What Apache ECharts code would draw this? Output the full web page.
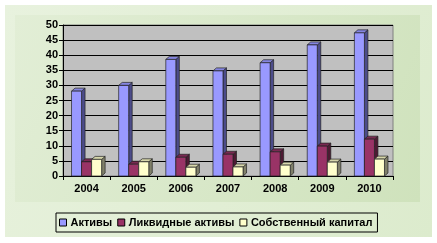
<!DOCTYPE html>
<html>
<head>
<meta charset="utf-8">
<script src="https://cdn.jsdelivr.net/npm/echarts@6/dist/echarts.min.js"></script>
<style>html,body{margin:0;padding:0;background:#fff}#c{width:437px;height:243px}</style>
</head>
<body>
<div id="c"></div>
<script>
const categories = ['2004','2005','2006','2007','2008','2009','2010'];
const seriesNames = ['Активы','Ликвидные активы','Собственный капитал'];
const aktivy = [28.1, 30.0, 38.6, 34.8, 37.5, 43.4, 47.4];
const likvid = [4.7, 3.9, 6.2, 7.2, 8.0, 9.9, 12.2];
const sobstv = [5.5, 4.7, 2.9, 3.0, 3.6, 4.6, 5.6];
const yTicks = {min: 0, max: 50, interval: 5};

const faces = [
  {front:'#9999ff', side:'#4c4c8a', top:'#8585e0'},
  {front:'#993366', side:'#4d1a33', top:'#7a2952'},
  {front:'#ffffcc', side:'#80806a', top:'#d6d6aa'}
];
const valuesList = [aktivy, likvid, sobstv];

function makeRender(si){
  return function(params, api){
    const i = api.value(0), v = api.value(1);
    const top = api.coord([i, v]);
    const base = api.coord([i, 0]);
    const band = api.size([1, 0])[0];
    const w = band * 10 / 47;
    const x0 = top[0] - 1.5 * w + si * w;
    const yt = top[1], yb = base[1];
    const dx = 3.5, dy = 3;
    const f = faces[si];
    const st = {stroke:'#222', lineWidth:0.7};
    return {type:'group', children:[
      {type:'polygon', shape:{points:[[x0+w,yt],[x0+w+dx,yt-dy],[x0+w+dx,yb-dy],[x0+w,yb]]}, style:Object.assign({fill:f.side}, st)},
      {type:'polygon', shape:{points:[[x0,yt],[x0+dx,yt-dy],[x0+w+dx,yt-dy],[x0+w,yt]]}, style:Object.assign({fill:f.top}, st)},
      {type:'rect', shape:{x:x0, y:yt, width:w, height:yb-yt}, style:Object.assign({fill:f.front}, st)}
    ]};
  };
}

const chart = echarts.init(document.getElementById('c'), null, {renderer:'canvas'});
const font = '"Liberation Sans", Arial, sans-serif';
chart.setOption({
  animation:false,
  backgroundColor:'#ffffff',
  graphic:[
    {type:'rect', z:-10, shape:{x:5, y:5, width:427, height:232},
     style:{fill:new echarts.graphic.LinearGradient(0,0,1,1,[{offset:0,color:'#e8f2de'},{offset:1,color:'#dcebcd'}])}},
    {type:'rect', z:-9, shape:{x:15, y:15, width:405, height:187},
     style:{fill:new echarts.graphic.LinearGradient(0,0,1,1,[{offset:0,color:'#e2eed6'},{offset:1,color:'#cfe2bc'}])}},
    {type:'rect', z:-8, shape:{x:63, y:27, width:3, height:150}, style:{fill:'#a6a6a6'}}
  ],
  grid:{left:63, right:44, top:25, bottom:67, show:true, backgroundColor:'#c0c0c0', borderColor:'#808080', borderWidth:1},
  legend:{
    data:seriesNames.map((n,k)=>({name:n, itemStyle:{color:faces[k].front, borderColor:'#000', borderWidth:1}})),
    left:56, top:213, itemWidth:7, itemHeight:7, itemGap:5, icon:'rect',
    padding:[4,5,4,3], borderColor:'#000', borderWidth:1,
    textStyle:{fontFamily:font, fontWeight:'bold', fontSize:11, color:'#000', padding:[0,0,0,-1]}
  },
  xAxis:{
    type:'category', data:categories,
    axisLine:{lineStyle:{color:'#000'}},
    axisTick:{show:true, length:4, lineStyle:{color:'#000'}},
    axisLabel:{fontFamily:font, fontWeight:'bold', fontSize:11, color:'#000', margin:7}
  },
  yAxis:{
    type:'value', min:yTicks.min, max:yTicks.max, interval:yTicks.interval,
    axisLine:{show:true, lineStyle:{color:'#000'}},
    axisTick:{show:true, length:4, lineStyle:{color:'#000'}},
    axisLabel:{fontFamily:font, fontWeight:'bold', fontSize:11, color:'#000', margin:5},
    splitLine:{lineStyle:{color:'#000', width:1}}
  },
  series:valuesList.map((vals,si)=>({
    type:'custom', name:seriesNames[si],
    itemStyle:{color:faces[si].front},
    renderItem:makeRender(si),
    encode:{x:0, y:1},
    data:vals.map((v,i)=>[i,v])
  }))
});
</script>
</body>
</html>
